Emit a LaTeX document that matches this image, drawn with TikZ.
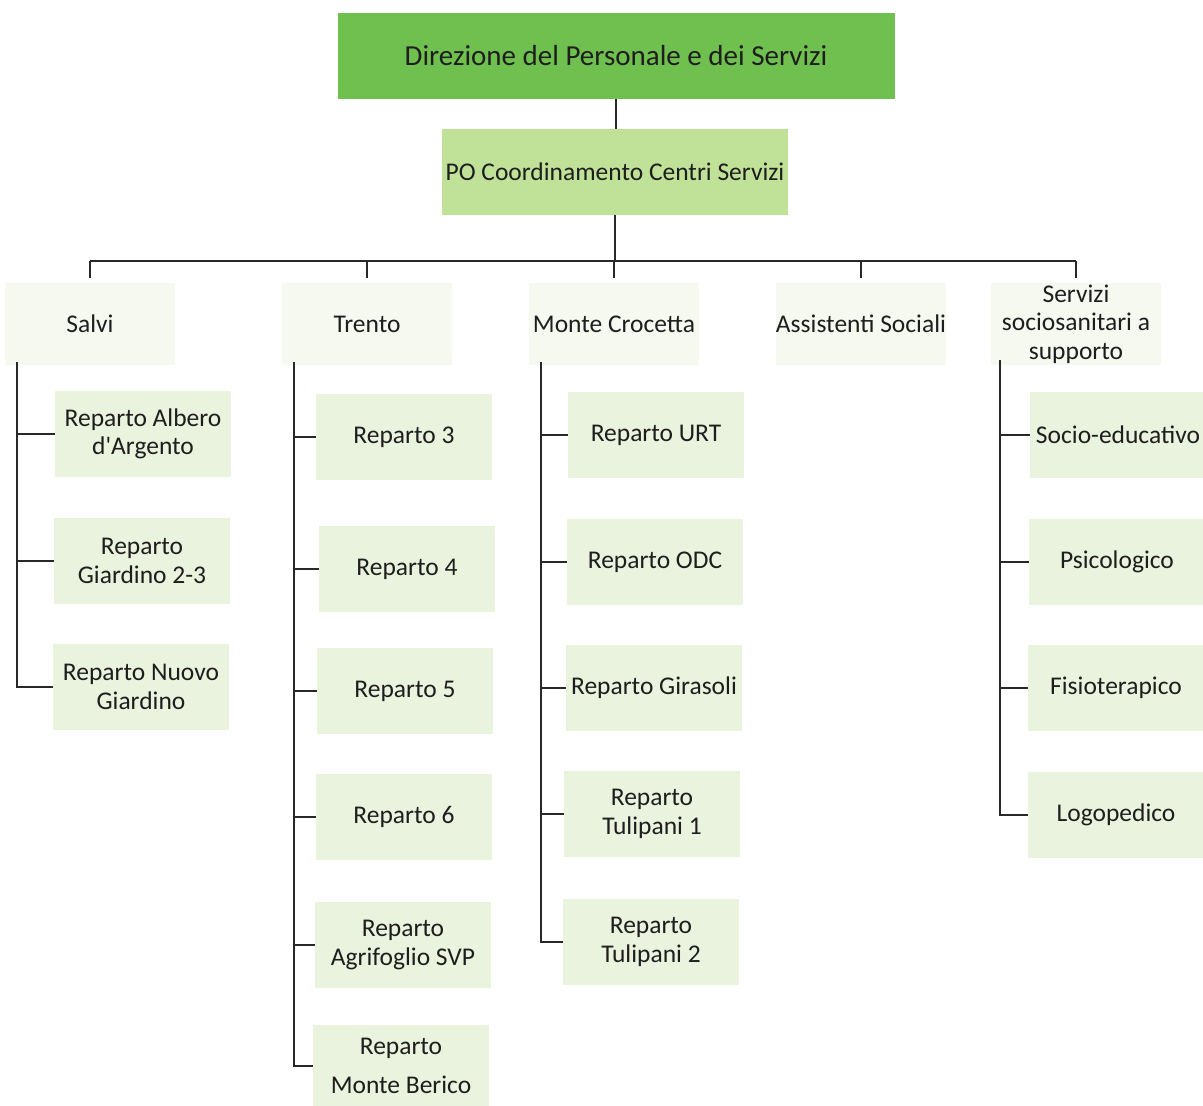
\documentclass[tikz,border=0pt]{standalone}
\usepackage{fontspec}
\setmainfont{Carlito}[Ligatures=TeXOff]
\definecolor{topgreen}{RGB}{112,192,80}
\definecolor{pogreen}{RGB}{192,226,152}
\definecolor{headfill}{RGB}{246,249,240}
\definecolor{childfill}{RGB}{234,243,222}
\definecolor{ink}{RGB}{30,30,30}
\definecolor{linec}{RGB}{40,40,40}
\tikzset{
  base/.style={inner sep=0pt, align=center, text=ink, font=\fontsize{25.5}{28.5}\selectfont},
  topbox/.style={base, fill=topgreen, minimum width=557pt, minimum height=86pt, font=\fontsize{29}{33}\selectfont},
  pobox/.style={base, fill=pogreen, minimum width=346pt, minimum height=86pt},
  headbox/.style={base, fill=headfill, minimum width=170pt, minimum height=82pt},
  childbox/.style={base, fill=childfill, minimum width=176pt, minimum height=86pt},
  conn/.style={draw=linec, line width=1.4pt},
}
\begin{document}
\begin{tikzpicture}[x=1pt,y=-1pt]
\useasboundingbox (0,0) rectangle (1203,1106);
\node[topbox] (top) at (616,56) {Direzione del Personale e dei Servizi};
\node[pobox] (po) at (615,172) {PO Coordinamento Centri Servizi};
\coordinate (bus) at (0,261);
% headers
\node[headbox] (salvi) at (90,324) {Salvi};
\node[headbox] (trento) at (367,324) {Trento};
\node[headbox] (monte) at (614,324) {Monte Crocetta};
\node[headbox] (assist) at (861,324) {Assistenti Sociali};
\node[headbox] (serv) at (1076,324) {Servizi\\sociosanitari a\\supporto};
% connectors top
\draw[conn] (top.south) -- (top.south |- po.north);
\draw[conn] (po.south) -- (po.south |- bus);
\draw[conn] (salvi.north |- bus) -- (serv.north |- bus);
\foreach \h in {salvi,trento,monte,assist,serv}
  \draw[conn, shorten >=5pt] (\h.north |- bus) -- (\h.north);
% trunks
\coordinate (tsalvi) at ([xshift=-73pt,yshift=3pt]salvi.south);
\coordinate (ttrento) at ([xshift=-73pt,yshift=3pt]trento.south);
\coordinate (tmonte) at ([xshift=-73pt,yshift=3pt]monte.south);
\coordinate (tserv) at ([xshift=-76pt,yshift=5pt]serv.south);
% Salvi children
\node[childbox] (s1) at (143,434) {Reparto Albero\\d'Argento};
\node[childbox] (s2) at (142,561) {Reparto\\Giardino 2-3};
\node[childbox] (s3) at (141,687) {Reparto Nuovo\\Giardino};
% Trento children
\node[childbox] (t1) at (404,437) {Reparto 3};
\node[childbox] (t2) at (407,569) {Reparto 4};
\node[childbox] (t3) at (405,691) {Reparto 5};
\node[childbox] (t4) at (404,817) {Reparto 6};
\node[childbox] (t5) at (403,945) {Reparto\\Agrifoglio SVP};
\node[childbox, minimum height=82pt] (t6) at (401,1066) {Reparto\\[11pt]Monte Berico};
% Monte Crocetta children
\node[childbox] (m1) at (656,435) {Reparto URT};
\node[childbox] (m2) at (655,562) {Reparto ODC};
\node[childbox] (m3) at (654,688) {Reparto Girasoli};
\node[childbox] (m4) at (652,814) {Reparto\\Tulipani 1};
\node[childbox] (m5) at (651,942) {Reparto\\Tulipani 2};
% Servizi children
\node[childbox] (v1) at (1118,435) {Socio-educativo};
\node[childbox] (v2) at (1117,562) {Psicologico};
\node[childbox] (v3) at (1116,688) {Fisioterapico};
\node[childbox] (v4) at (1116,815) {Logopedico};
% child connectors
\foreach \c in {s1,s2,s3} \draw[conn] (tsalvi) |- (\c.west);
\foreach \c in {t1,t2,t3,t4,t5,t6} \draw[conn] (ttrento) |- (\c.west);
\foreach \c in {m1,m2,m3,m4,m5} \draw[conn] (tmonte) |- (\c.west);
\foreach \c in {v1,v2,v3,v4} \draw[conn] (tserv) |- (\c.west);
\end{tikzpicture}
\end{document}
